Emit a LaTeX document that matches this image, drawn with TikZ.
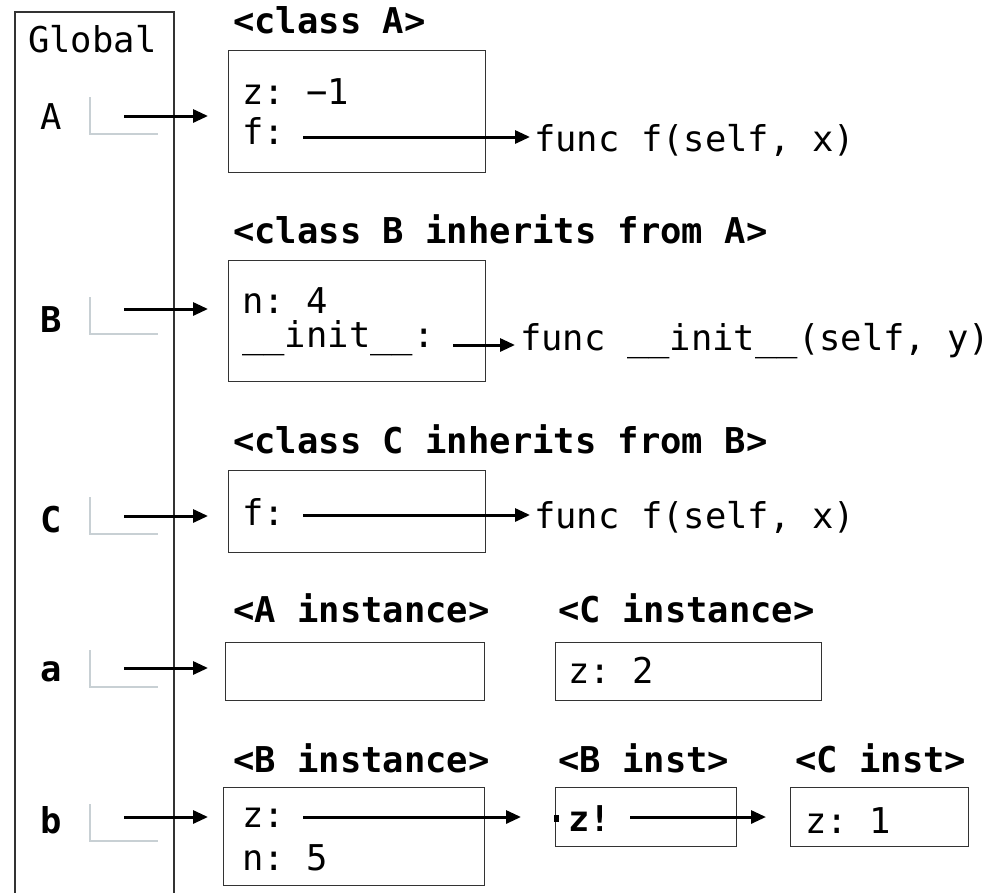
\documentclass[tikz,border=0pt]{standalone}
\usepackage{fontspec}
\setmonofont{DejaVu Sans Mono}
\usetikzlibrary{arrows.meta}
\begin{document}
\begin{tikzpicture}[x=1pt,y=-1pt,
  txt/.style={font=\ttfamily\fontsize{35.5}{40}\selectfont, inner sep=0pt, anchor=base west},
  hdr/.style={font=\ttfamily\bfseries\fontsize{35.5}{40}\selectfont, inner sep=0pt, anchor=base west},
  box/.style={draw=black!80, line width=1.2pt, inner sep=0pt, anchor=north west},
  frame/.style={draw=black!80, line width=1.2pt},
  lmark/.style={draw={rgb,255:red,200;green,208;blue,212}, line width=1.6pt},
  arr/.style={draw=black, line width=3pt, -{Triangle[length=15pt,width=13pt]}}
]
\useasboundingbox (0,0) rectangle (1001,892);
\clip (0,0) rectangle (1001,892);

% global frame
\draw[frame] (15,12) rectangle (174,900);
\node[txt] (glob) at (28,52) {Global};

% variable labels
\node[txt] (lA) at (40,129) {A};
\node[hdr] (lB) at (40,332) {B};
\node[hdr] (lC) at (40,532) {C};
\node[hdr] (la) at (40,681) {a};
\node[hdr] (lb) at (40,833) {b};

% L marks
\draw[lmark] (90,97) |- (158,134);
\draw[lmark] (90,297) |- (158,334);
\draw[lmark] (90,497) |- (158,534);
\draw[lmark] (90,650) |- (158,687);
\draw[lmark] (90,804) |- (158,841);

% boxes
\node[box, minimum width=257pt, minimum height=122pt] (boxA) at (228,50) {};
\node[box, minimum width=257pt, minimum height=121pt] (boxB) at (228,260) {};
\node[box, minimum width=257pt, minimum height=82pt] (boxC) at (228,470) {};
\node[box, minimum width=259pt, minimum height=58pt] (boxAi) at (225,642) {};
\node[box, minimum width=266pt, minimum height=58pt] (boxCi) at (555,642) {};
\node[box, minimum width=261pt, minimum height=98pt] (boxBi) at (223,787) {};
\node[box, minimum width=181pt, minimum height=59pt] (boxBb) at (555,787) {};
\node[box, minimum width=178pt, minimum height=59pt] (boxCc) at (790,787) {};

% headers
\node[hdr] (hA) at (233,33) {<class A>};
\node[hdr] (hB) at (233,243) {<class B inherits from A>};
\node[hdr] (hC) at (233,453) {<class C inherits from B>};
\node[hdr] (hAi) at (233,622) {<A instance>};
\node[hdr] (hCi) at (558,622) {<C instance>};
\node[hdr] (hBi) at (233,772) {<B instance>};
\node[hdr] (hBb) at (558,772) {<B inst>};
\node[hdr] (hCc) at (795,772) {<C inst>};

% contents
\node[txt] (zA) at (242,104) {z: −1};
\node[txt] (fA) at (242,144) {f:};
\node[txt] (funcA) at (534,151) {func f(self, x)};
\node[txt] (nB) at (242,313) {n: 4};
\node[txt] (iB) at (242,347) {\_\_init\_\_:};
\node[txt] (funcB) at (520,350) {func \_\_init\_\_(self, y)};
\node[txt] (fC) at (242,525) {f:};
\node[txt] (funcC) at (534,528) {func f(self, x)};
\node[txt] (zCi) at (568,683) {z: 2};
\node[txt] (zBi) at (242,827) {z:};
\node[txt] (nBi) at (242,870) {n: 5};
\node[hdr] (zBb) at (568,831) {z!};
\node[txt] (zCc) at (805,833) {z: 1};
\fill[black] (554,815) rectangle (559,822);

% arrow coordinates
\coordinate (sA) at (124,116);
\coordinate (eA) at (208,116);
\coordinate (sB) at (124,309);
\coordinate (eB) at (208,309);
\coordinate (sC) at (124,516);
\coordinate (eC) at (208,516);
\coordinate (sa) at (124,668);
\coordinate (ea) at (208,668);
\coordinate (sb) at (124,817);
\coordinate (eb) at (208,817);
\coordinate (sfA) at (303,137);
\coordinate (siB) at (453,345);
\coordinate (sfC) at (303,515);
\coordinate (szBi) at (303,817);
\coordinate (ezBi) at (521,817);
\coordinate (szBb) at (630,817);

% arrows
\draw[arr] (sA) -- (eA);
\draw[arr] (sB) -- (eB);
\draw[arr] (sC) -- (eC);
\draw[arr] (sa) -- (ea);
\draw[arr] (sb) -- (eb);
\draw[arr] (sfA) -- ([xshift=-4pt]funcA.west |- sfA);
\draw[arr] (siB) -- ([xshift=-5pt]funcB.west |- siB);
\draw[arr] (sfC) -- ([xshift=-4pt]funcC.west |- sfC);
\draw[arr] (szBi) -- (ezBi);
\draw[arr] (szBb) -- ([xshift=-24pt]boxCc.west |- szBb);
\end{tikzpicture}
\end{document}
